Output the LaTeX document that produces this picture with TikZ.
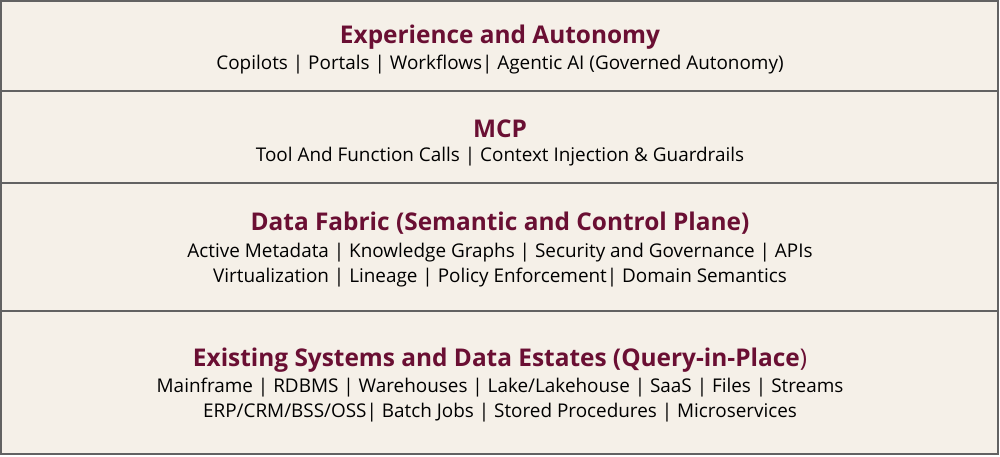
\documentclass[tikz,border=0pt]{standalone}
\usepackage{fontspec}
\setmainfont{Open Sans}
\definecolor{fillc}{HTML}{F5F0E8}
\definecolor{linec}{HTML}{626262}
\definecolor{titlec}{HTML}{6A0F33}
\begin{document}
\begin{tikzpicture}[x=1pt,y=-1pt,
  layer/.style={draw=linec,line width=2.3pt,fill=fillc},
  ttl/.style={font=\fontsize{24.4}{28}\selectfont\bfseries,text=titlec,inner sep=0pt,anchor=center},
  body/.style={font=\fontsize{18.9}{25}\selectfont,text=black,inner sep=0pt,anchor=center,align=center}]
\useasboundingbox (0,0) rectangle (1000,456);
\fill[white] (0,0) rectangle (1000,456);
\draw[layer] (1,1) rectangle (998,91);
\draw[layer] (1,91) rectangle (998,183);
\draw[layer] (1,183) rectangle (998,311);
\draw[layer] (1,311) rectangle (998,454);
\node[ttl] (t1) at (500,37) {Experience and Autonomy};
\node[body] (b1) at (500,65) {Copilots | Portals | Workflows| Agentic AI (Governed Autonomy)};
\node[ttl] (t2) at (500,129) {MCP};
\node[body] (b2) at (500,157) {Tool And Function Calls | Context Injection \& Guardrails};
\node[ttl] (t3) at (500,223) {Data Fabric (Semantic and Control Plane)};
\node[body] (b3) at (500,265.5) {Active Metadata | Knowledge Graphs | Security and Governance | APIs\\Virtualization | Lineage | Policy Enforcement| Domain Semantics};
\node[ttl] (t4) at (500,360) {Existing Systems and Data Estates (Query-in-Place{\mdseries)}};
\node[body] (b4) at (500,400.5) {Mainframe | RDBMS | Warehouses | Lake/Lakehouse | SaaS | Files | Streams\\ERP/CRM/BSS/OSS| Batch Jobs | Stored Procedures | Microservices};
\end{tikzpicture}
\end{document}
